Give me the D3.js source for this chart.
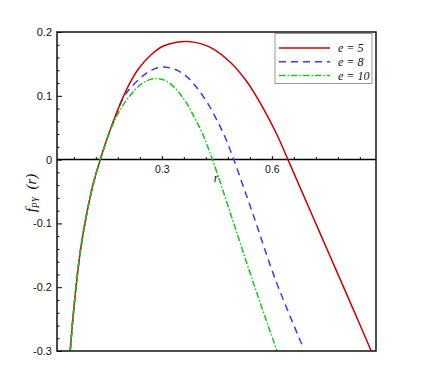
<!DOCTYPE html>
<html>
<head>
<meta charset="utf-8">
<script src="https://cdn.jsdelivr.net/npm/d3@7"></script>
<style>
  body { margin: 0; background: #fff; }
  .tick text { font-family: "Liberation Sans", Arial, sans-serif; fill: #111; }
  .serif { font-family: "Liberation Serif", "Times New Roman", serif; font-style: italic; fill: #111; }
</style>
</head>
<body>
<div id="chart"></div>
<script>
// values (r, f_PY(r))
const r5 = [0.050, 0.058, 0.067, 0.078, 0.094, 0.112, 0.132, 0.154, 0.175, 0.193, 0.209, 0.236, 0.270, 0.304, 0.340, 0.372, 0.410, 0.441, 0.486, 0.532, 0.577, 0.614, 0.644, 0.700, 0.760, 0.820, 0.871];
const f5 = [-0.300, -0.245, -0.194, -0.142, -0.088, -0.040, 0.000, 0.038, 0.071, 0.096, 0.116, 0.142, 0.164, 0.178, 0.184, 0.185, 0.181, 0.173, 0.153, 0.122, 0.080, 0.039, 0.000, -0.074, -0.153, -0.232, -0.300];

const r8 = [0.050, 0.058, 0.067, 0.078, 0.094, 0.112, 0.132, 0.154, 0.175, 0.193, 0.214, 0.250, 0.275, 0.300, 0.320, 0.345, 0.368, 0.395, 0.423, 0.450, 0.474, 0.496, 0.550, 0.609, 0.682];
const f8 = [-0.300, -0.245, -0.194, -0.142, -0.088, -0.040, 0.000, 0.038, 0.070, 0.095, 0.112, 0.132, 0.141, 0.145, 0.144, 0.139, 0.130, 0.113, 0.090, 0.062, 0.033, 0.000, -0.088, -0.187, -0.290];

const r10 = [0.050, 0.058, 0.067, 0.078, 0.094, 0.112, 0.132, 0.154, 0.170, 0.186, 0.214, 0.241, 0.265, 0.286, 0.305, 0.323, 0.345, 0.368, 0.386, 0.409, 0.438, 0.491, 0.550, 0.614];
const f10 = [-0.300, -0.245, -0.194, -0.142, -0.088, -0.040, 0.000, 0.038, 0.060, 0.078, 0.101, 0.117, 0.125, 0.127, 0.125, 0.119, 0.106, 0.088, 0.069, 0.043, 0.000, -0.091, -0.194, -0.300];

const seriesNames = ['e = 5', 'e = 8', 'e = 10'];
const xMajor = [0.3, 0.6];
const xMinor = [0.06, 0.12, 0.18, 0.24, 0.36, 0.42, 0.48, 0.54, 0.66, 0.72, 0.78, 0.84];
const yMajor = [-0.3, -0.2, -0.1, 0, 0.1, 0.2];
const yMinor = d3.range(-0.28, 0.2, 0.02).map(v => +v.toFixed(2)).filter(v => !yMajor.includes(v));

const width = 429, height = 382;
const mLeft = 57, mRight = 376, mTop = 32, mBottom = 351;

const svg = d3.select('#chart').append('svg')
  .attr('width', width)
  .attr('height', height);

const x = d3.scaleLinear().domain([0.014, 0.884]).range([mLeft, mRight]);
const y = d3.scaleLinear().domain([-0.3, 0.2]).range([mBottom, mTop]);

svg.append('defs').append('clipPath').attr('id', 'clip')
  .append('rect').attr('x', mLeft).attr('y', mTop).attr('width', mRight - mLeft).attr('height', mBottom - mTop);

// y axis, ticks pointing inward
svg.append('g')
  .attr('transform', `translate(${mLeft},0)`)
  .call(d3.axisLeft(y).tickValues(yMinor).tickSize(-2.5).tickFormat(''))
  .call(g => g.select('.domain').remove());
svg.append('g')
  .attr('transform', `translate(${mLeft},0)`)
  .call(d3.axisLeft(y).tickValues(yMajor).tickSize(-5).tickPadding(5)
    .tickFormat(d => d === 0 ? '0' : String(d)))
  .call(g => g.select('.domain').remove())
  .call(g => g.selectAll('text').attr('font-size', 11));

// x axis along f = 0
svg.append('g')
  .attr('transform', `translate(0,${y(0)})`)
  .call(d3.axisBottom(x).tickValues(xMinor).tickSize(-2.5).tickFormat(''))
  .call(g => g.select('.domain').remove());
svg.append('g')
  .attr('transform', `translate(0,${y(0)})`)
  .call(d3.axisBottom(x).tickValues(xMajor).tickSize(-3.5).tickPadding(6).tickFormat(d3.format('.1f')))
  .call(g => g.select('.domain').remove())
  .call(g => g.selectAll('text').attr('font-size', 10.5));

svg.append('line')
  .attr('x1', mLeft).attr('x2', mRight)
  .attr('y1', y(0)).attr('y2', y(0))
  .attr('stroke', '#000').attr('stroke-width', 1.5);

// curves
const line = d3.line()
  .x(d => x(d[0]))
  .y(d => y(d[1]))
  .curve(d3.curveCatmullRom.alpha(0.5));

const series = [
  {name: seriesNames[1], pts: d3.zip(r8, f8), color: '#3a3aff', dash: '7,5'},
  {name: seriesNames[0], pts: d3.zip(r5, f5), color: '#d00000', dash: null},
  {name: seriesNames[2], pts: d3.zip(r10, f10), color: '#10cc10', dash: '6.5,2,1.5,2'}
];

svg.append('g').attr('clip-path', 'url(#clip)')
  .selectAll('path')
  .data(series)
  .join('path')
  .attr('d', d => line(d.pts))
  .attr('fill', 'none')
  .attr('stroke', d => d.color)
  .attr('stroke-width', 1.5)
  .attr('stroke-dasharray', d => d.dash);

// frame
svg.append('rect')
  .attr('x', mLeft).attr('y', mTop)
  .attr('width', mRight - mLeft).attr('height', mBottom - mTop)
  .attr('fill', 'none').attr('stroke', '#111').attr('stroke-width', 1.5);

// axis titles
svg.append('text')
  .attr('class', 'serif')
  .attr('x', 216).attr('y', 182)
  .attr('text-anchor', 'middle')
  .attr('font-size', 12)
  .text('r');

const yt = svg.append('text')
  .attr('class', 'serif')
  .attr('transform', 'translate(36,193) rotate(-90)')
  .attr('text-anchor', 'middle')
  .attr('font-size', 15);
yt.append('tspan').text('f');
yt.append('tspan').attr('font-size', 9.5).attr('dy', 3).text('PY');
yt.append('tspan').attr('dy', -3).text('\u2002(r)');

// legend
const legend = svg.append('g');
legend.append('rect')
  .attr('x', 275).attr('y', 33.5)
  .attr('width', 97).attr('height', 50)
  .attr('fill', '#fff').attr('stroke', '#999').attr('stroke-width', 1);

const legendOrder = [series[1], series[0], series[2]];
const ly = d3.scalePoint().domain(seriesNames).range([48, 75.5]);
legendOrder.forEach(s => {
  legend.append('line')
    .attr('x1', 279).attr('x2', 330)
    .attr('y1', ly(s.name)).attr('y2', ly(s.name))
    .attr('stroke', s.color).attr('stroke-width', 1.5)
    .attr('stroke-dasharray', s.dash);
  legend.append('text')
    .attr('class', 'serif')
    .attr('x', 338).attr('y', ly(s.name) + 4)
    .attr('font-size', 12)
    .text(s.name);
});
</script>
</body>
</html>
